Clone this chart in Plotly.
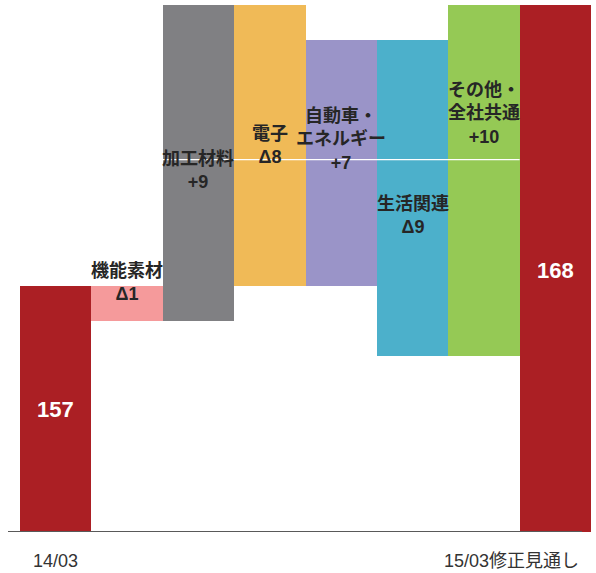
import plotly.graph_objects as go

# ---- data ----
categories = ["14/03", "機能素材", "加工材料", "電子", "自動車・エネルギー", "生活関連", "その他・全社共通", "15/03修正見通し"]
values = [157, -1, 9, -8, 7, -9, 10, 168]
measures = ["total", "relative", "relative", "relative", "relative", "relative", "relative", "total"]
bar_names = ["", "機能素材", "加工材料", "電子", "自動車・<br>エネルギー", "生活関連", "その他・<br>全社共通", ""]
colors = ["#ab1f24", "#f59a9b", "#808083", "#f0ba57", "#9a94c8", "#4cb0cb", "#95c955", "#ab1f24"]
y_min, y_max = 150, 165

# ---- build bars ----
bases, heights = [], []
level = 0
for v, m in zip(values, measures):
    if m == "total":
        bases.append(0)
        heights.append(v)
        level = v
    else:
        bases.append(level)
        heights.append(v)
        level += v

xs = list(range(len(categories)))
fig = go.Figure()
fig.add_trace(go.Bar(x=xs, y=heights, base=bases, marker=dict(color=colors, line=dict(width=0)),
                     width=1.0, hoverinfo="skip", showlegend=False))

FONT = "Liberation Sans, Arial, Noto Sans CJK JP, sans-serif"

# label placements (paper y)
label_y = [0.2315, 0.4725, 0.686, 0.733, 0.744, 0.6006, 0.794, 0.497]
annotations = []
for i, (nm, v, m) in enumerate(zip(bar_names, values, measures)):
    if m == "total":
        txt = f"<b>{v}</b>"
        annotations.append(dict(x=xs[i], y=label_y[i], xref="x", yref="paper", text=txt, showarrow=False,
                                font=dict(family=FONT, size=22, color="white"), xanchor="center", yanchor="middle"))
    else:
        vt = f"Δ{abs(v)}" if v < 0 else f"+{v}"
        txt = f"<b>{nm}<br>{vt}</b>"
        annotations.append(dict(x=xs[i], y=label_y[i], xref="x", yref="paper", text=txt, showarrow=False,
                                font=dict(family=FONT, size=18, color="#262626"), xanchor="center", yanchor="middle"))

# category labels under axis
annotations.append(dict(x=xs[0], y=-0.055, xref="x", yref="paper", text=categories[0], showarrow=False,
                        font=dict(family=FONT, size=18, color="#333333"), xanchor="center", yanchor="middle"))
annotations.append(dict(x=(581 - 20) / 571, y=-0.055, xref="paper", yref="paper", text=categories[-1], showarrow=False,
                        font=dict(family=FONT, size=18, color="#333333"), xanchor="right", yanchor="middle"))

shapes = [
    dict(type="line", xref="paper", yref="y", x0=-12 / 571, x1=(582 - 20) / 571, y0=y_min, y1=y_min,
         line=dict(color="#595959", width=2), layer="above"),
    dict(type="line", xref="x", yref="y", x0=1.5, x1=6.5, y0=160.6, y1=160.6,
         line=dict(color="white", width=1.2), layer="above"),
]

fig.update_layout(
    width=596, height=573,
    margin=dict(l=20, r=5, t=5, b=41),
    paper_bgcolor="white", plot_bgcolor="white",
    bargap=0,
    xaxis=dict(range=[-0.5, 7.5], showticklabels=False, showgrid=False, zeroline=False, showline=False, ticks=""),
    yaxis=dict(range=[y_min, y_max], showticklabels=False, showgrid=False, zeroline=False, showline=False, ticks=""),
    annotations=annotations,
    shapes=shapes,
)

fig.write_html("out.html", config={"displayModeBar": False},
               post_script="document.body.style.margin='0px';document.body.style.overflow='hidden';")
